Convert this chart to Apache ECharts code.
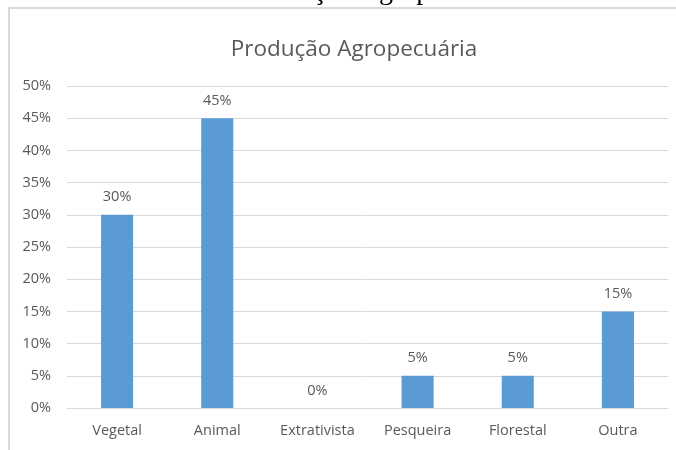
<!DOCTYPE html>
<html>
<head>
<meta charset="utf-8">
<script src="https://cdn.jsdelivr.net/npm/echarts@6/dist/echarts.min.js"></script>
<style>
  html, body { margin: 0; padding: 0; background: #ffffff; }
  #chart { width: 676px; height: 450px; }
</style>
</head>
<body>
<div id="chart"></div>
<script>
// Production share by type (percent)
const categories = ['Vegetal', 'Animal', 'Extrativista', 'Pesqueira', 'Florestal', 'Outra'];
const shares = [30, 45, 0, 5, 5, 15];
const yMin = 0;
const yMax = 50;
const yStep = 5;

const chart = echarts.init(document.getElementById('chart'), null, { renderer: 'canvas' });
const labelFont = '"Open Sans", sans-serif';

chart.setOption({
  backgroundColor: '#ffffff',
  animation: false,
  title: {
    text: 'Produção Agropecuária',
    left: 349,
    top: 45,
    textAlign: 'center',
    textVerticalAlign: 'middle',
    textStyle: { fontFamily: labelFont, fontSize: 22.5, fontWeight: 'normal', color: '#595959' }
  },
  graphic: [
    {
      type: 'rect',
      shape: { x: 9, y: 8, width: 720, height: 520 },
      style: { fill: 'none', stroke: '#d9d9d9', lineWidth: 2 },
      silent: true
    },
    {
      // heading line above the chart frame, cut by the top edge
      type: 'text',
      x: 246,
      y: -8.5,
      style: {
        text: 'Produção Agropecuária',
        font: '28px "Liberation Serif", serif',
        fill: '#000000',
        verticalAlign: 'middle',
        align: 'left'
      },
      silent: true
    }
  ],
  grid: { left: 67, right: 8, top: 86, bottom: 42, containLabel: false },
  xAxis: {
    type: 'category',
    data: categories,
    axisLine: { lineStyle: { color: '#d9d9d9', width: 1 } },
    axisTick: { show: false },
    axisLabel: { color: '#595959', fontFamily: labelFont, fontSize: 14.5, margin: 15, interval: 0 }
  },
  yAxis: {
    type: 'value',
    min: yMin,
    max: yMax,
    interval: yStep,
    axisLine: { show: false },
    axisTick: { show: false },
    splitLine: { lineStyle: { color: '#d9d9d9', width: 1 } },
    axisLabel: { color: '#595959', fontFamily: labelFont, fontSize: 14.5, margin: 16, formatter: '{value}%' }
  },
  series: [{
    type: 'bar',
    data: shares,
    barWidth: '32%',
    itemStyle: { color: '#5b9bd5' },
    label: {
      show: true,
      position: 'top',
      distance: 10,
      formatter: '{c}%',
      color: '#595959',
      fontFamily: labelFont,
      fontSize: 14.5
    }
  }]
});
</script>
</body>
</html>
